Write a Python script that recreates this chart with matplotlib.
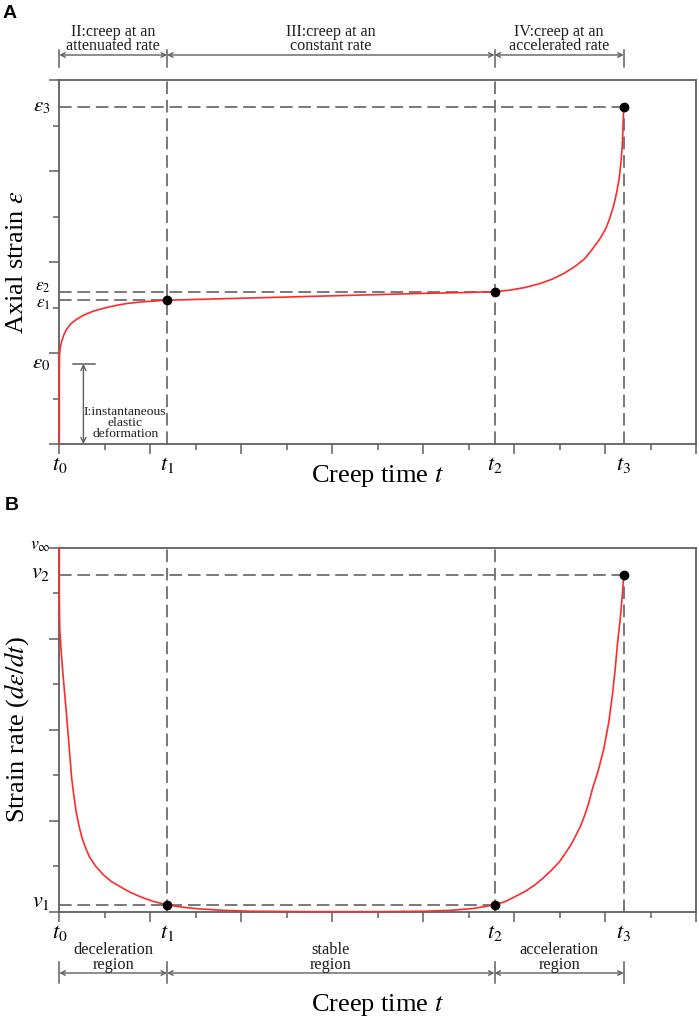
import matplotlib
matplotlib.use("Agg")
import matplotlib.pyplot as plt
from matplotlib import transforms

# ---------------- data ----------------
x_max = 14
y_max = 8
time_major = [0, 2, 4, 6, 8, 10, 12, 14]
time_minor = [1, 3, 5, 7, 9, 11, 13]
value_major = [0, 2, 4, 6, 8]
value_minor = [1, 3, 5, 7]

t_marks = [0.0, 2.37, 9.57, 12.41]
t_labels = [r"$t_{\mathit{0}}$", r"$t_{\mathit{1}}$", r"$t_{\mathit{2}}$", r"$t_{\mathit{3}}$"]

eps_levels = [1.76, 3.16, 3.35, 7.40]
eps_labels = [r"$\varepsilon_{\mathit{0}}$", r"$\varepsilon_{\mathit{1}}$",
              r"$\varepsilon_{\mathit{2}}$", r"$\varepsilon_{\mathit{3}}$"]

rate_levels = [0.15, 7.39, 8.0]
rate_labels = [r"$v_{\mathit{1}}$", r"$v_{\mathit{2}}$", r"$v_\infty$"]

# strain curve (panel A)
strain_t = [0.0, 0.0, 0.005, 0.02, 0.05, 0.1, 0.16, 0.25, 0.38, 0.55, 0.75, 1.0, 1.27,
            1.5, 1.78, 2.05, 2.37, 3.5, 5.0, 6.5, 8.0, 9.0, 9.57, 9.9, 10.24, 10.55,
            10.83, 11.1, 11.35, 11.55, 11.72, 11.88, 12.01, 12.1, 12.19, 12.26, 12.31,
            12.35, 12.38, 12.41]
strain_e = [0.0, 1.6, 1.95, 2.12, 2.25, 2.4, 2.52, 2.64, 2.74, 2.84, 2.92, 2.99, 3.05,
            3.09, 3.12, 3.14, 3.16, 3.19, 3.23, 3.27, 3.31, 3.33, 3.35, 3.38, 3.44, 3.52,
            3.62, 3.75, 3.91, 4.07, 4.28, 4.5, 4.72, 4.95, 5.24, 5.55, 5.83, 6.2, 6.56, 7.40]

# strain-rate curve (panel B)
rate_t = [0.0, 0.0, 0.01, 0.05, 0.09, 0.14, 0.185, 0.23, 0.27, 0.32, 0.37, 0.43, 0.5,
          0.58, 0.66, 0.8, 0.97, 1.15, 1.34, 1.55, 1.78, 2.05, 2.37, 2.7, 3.1, 3.6, 4.2,
          5.5, 7.0, 8.0, 8.6, 9.1, 9.57, 9.8, 10.02, 10.25, 10.46, 10.65, 10.83, 11.0,
          11.13, 11.25, 11.35, 11.47, 11.57, 11.65, 11.72, 11.85, 11.97, 12.08, 12.16,
          12.22, 12.27, 12.33, 12.38, 12.41]
rate_v = [8.0, 7.0, 6.2, 5.6, 5.11, 4.55, 4.01, 3.45, 2.95, 2.55, 2.2, 1.9, 1.62,
          1.4, 1.21, 1.0, 0.81, 0.66, 0.55, 0.43, 0.33, 0.23, 0.15, 0.1, 0.06, 0.03, 0.01,
          0.0, 0.0, 0.01, 0.03, 0.07, 0.15, 0.22, 0.33, 0.45, 0.59, 0.75, 0.92, 1.1,
          1.29, 1.47, 1.66, 1.9, 2.17, 2.42, 2.69, 3.1, 3.57, 4.15, 4.75, 5.3, 5.85,
          6.4, 6.95, 7.39]

stage_top = ["II:creep at an\nattenuated rate", "III:creep at an\nconstant rate",
             "IV:creep at an\naccelerated rate"]
stage_bottom = ["deceleration\nregion", "stable\nregion", "acceleration\nregion"]

# ---------------- style ----------------
plt.rcParams["font.family"] = ["Liberation Serif", "DejaVu Serif"]
plt.rcParams["mathtext.fontset"] = "stix"

GRAY = "#5f5f5f"
DASH = "#6e6e6e"
RED = "#ff2a2a"
TXT = "#1e1e1e"
W, H = 699, 1033

fig = plt.figure(figsize=(W / 100, H / 100), dpi=100)


def box(px_left, px_top, px_right, px_bottom):
    return [px_left / W, 1 - px_bottom / H, (px_right - px_left) / W, (px_bottom - px_top) / H]


axA = fig.add_axes(box(59.3, 80, 696, 444))
axB = fig.add_axes(box(59.3, 547.7, 696, 911.7))

for ax in (axA, axB):
    ax.set_xlim(0, x_max)
    ax.set_ylim(0, y_max)
    ax.set_xticks(time_major)
    ax.set_xticks(time_minor, minor=True)
    ax.set_yticks(value_major)
    ax.set_yticks(value_minor, minor=True)
    ax.tick_params(which="major", direction="out", length=7, width=1.1, color=GRAY,
                   labelbottom=False, labelleft=False)
    ax.tick_params(which="minor", direction="out", length=4, width=1.1, color=GRAY,
                   labelbottom=False, labelleft=False)
    for s in ax.spines.values():
        s.set_color(GRAY)
        s.set_linewidth(1.3)
    tr = transforms.blended_transform_factory(ax.transData, ax.transAxes)
    for tm, tl in zip(t_marks, t_labels):
        ax.text(tm, -0.03, tl, transform=tr, ha="center", va="top", fontsize=16)

dash_kw = dict(color=DASH, lw=1.3, dashes=(7, 3.2), zorder=2)

# ---------------- panel A ----------------
t0, t1, t2, t3 = t_marks
e0, e1, e2, e3 = eps_levels
axA.plot([0, t1], [e1, e1], **dash_kw)
axA.plot([0, t2], [e2, e2], **dash_kw)
axA.plot([0, t3], [e3, e3], **dash_kw)
axA.plot([t1, t1], [0, y_max], **dash_kw)
axA.plot([t2, t2], [0, y_max], **dash_kw)
axA.plot([t3, t3], [0, e3], **dash_kw)
axA.plot(strain_t, strain_e, color=RED, lw=1.2, zorder=4, clip_on=False)
axA.plot([t1, t2, t3], [e1, e2, e3], "o", color="black", ms=6, zorder=5, clip_on=False)

trYA = transforms.blended_transform_factory(axA.transAxes, axA.transData)
eps_offsets = [0.0, -0.08, 0.1, 0.0]
eps_sizes = [15, 12.5, 12.5, 15]
for lv, lb, dy, fs in zip(eps_levels, eps_labels, eps_offsets, eps_sizes):
    axA.text(-0.014, lv + dy, lb, transform=trYA, ha="right", va="center", fontsize=fs)

# instantaneous elastic deformation annotation
axA.plot([0.31, 0.79], [e0, e0], color=GRAY, lw=1.1, zorder=3)
axA.annotate("", xy=(0.53, 0), xytext=(0.53, e0),
             arrowprops=dict(arrowstyle="<->", color=GRAY, lw=1.0, shrinkA=0, shrinkB=0,
                             mutation_scale=9))
axA.text(1.45, 0.47, "I:instantaneous\nelastic\ndeformation", ha="center", va="center",
         fontsize=9.7, linespacing=0.9, color=TXT)

trA = transforms.blended_transform_factory(axA.transData, axA.transAxes)
for a, b in zip(t_marks[:-1], t_marks[1:]):
    axA.annotate("", xy=(b, 1.0687), xytext=(a, 1.0687), xycoords=trA, textcoords=trA,
                 arrowprops=dict(arrowstyle="<->", color=GRAY, lw=1.0, shrinkA=0, shrinkB=0,
                                 mutation_scale=8))
for tm in t_marks:
    axA.plot([tm, tm], [1.0365, 1.0824], transform=trA, color=GRAY, lw=1.1, clip_on=False)
for (a, b), txt in zip(zip(t_marks[:-1], t_marks[1:]), stage_top):
    axA.text((a + b) / 2, 1.112, txt, transform=trA, ha="center", va="center",
             fontsize=11.6, linespacing=0.85, color=TXT)

fig.text(17 / W, 1 - 262 / H, r"Axial strain $\varepsilon$", rotation=90, ha="center",
         va="center", fontsize=19)
fig.text(377.6 / W, 1 - 476 / H, "Creep time $t$", ha="center", va="center", fontsize=19)

# ---------------- panel B ----------------
v1, v2, vinf = rate_levels
axB.plot([0, t2], [v1, v1], **dash_kw)
axB.plot([0, t3], [v2, v2], **dash_kw)
axB.plot([t1, t1], [0, y_max], **dash_kw)
axB.plot([t2, t2], [0, y_max], **dash_kw)
axB.plot([t3, t3], [0, v2], **dash_kw)
axB.plot(rate_t, rate_v, color=RED, lw=1.2, zorder=4, clip_on=False)
axB.plot([t1, t2, t3], [v1, v1, v2], "o", color="black", ms=6, zorder=5, clip_on=False)

trYB = transforms.blended_transform_factory(axB.transAxes, axB.transData)
for lv, lb in zip(rate_levels, rate_labels):
    fs = 13 if lb == rate_labels[2] else 16
    axB.text(-0.014, lv + 0.05, lb, transform=trYB, ha="right", va="center", fontsize=fs)

trB = transforms.blended_transform_factory(axB.transData, axB.transAxes)
for a, b in zip(t_marks[:-1], t_marks[1:]):
    axB.annotate("", xy=(b, -0.1684), xytext=(a, -0.1684), xycoords=trB, textcoords=trB,
                 arrowprops=dict(arrowstyle="<->", color=GRAY, lw=1.0, shrinkA=0, shrinkB=0,
                                 mutation_scale=8))
for tm in t_marks:
    axB.plot([tm, tm], [-0.138, -0.196], transform=trB, color=GRAY, lw=1.1, clip_on=False)
for (a, b), txt in zip(zip(t_marks[:-1], t_marks[1:]), stage_bottom):
    axB.text((a + b) / 2, -0.126, txt, transform=trB, ha="center", va="center",
             fontsize=11.8, linespacing=0.85, color=TXT)

fig.text(17 / W, 1 - 729.7 / H, r"Strain rate ($d\varepsilon/dt$)", rotation=90,
         ha="center", va="center", fontsize=19)
fig.text(377.6 / W, 1 - 1005 / H, "Creep time $t$", ha="center", va="center", fontsize=19)

# panel letters
fig.text(10 / W, 1 - 13 / H, "A", ha="center", va="center", fontsize=14,
         fontweight="bold", family=["Liberation Sans", "DejaVu Sans"])
fig.text(12 / W, 1 - 505 / H, "B", ha="center", va="center", fontsize=14,
         fontweight="bold", family=["Liberation Sans", "DejaVu Sans"])

fig.savefig("out.png", dpi=100)
